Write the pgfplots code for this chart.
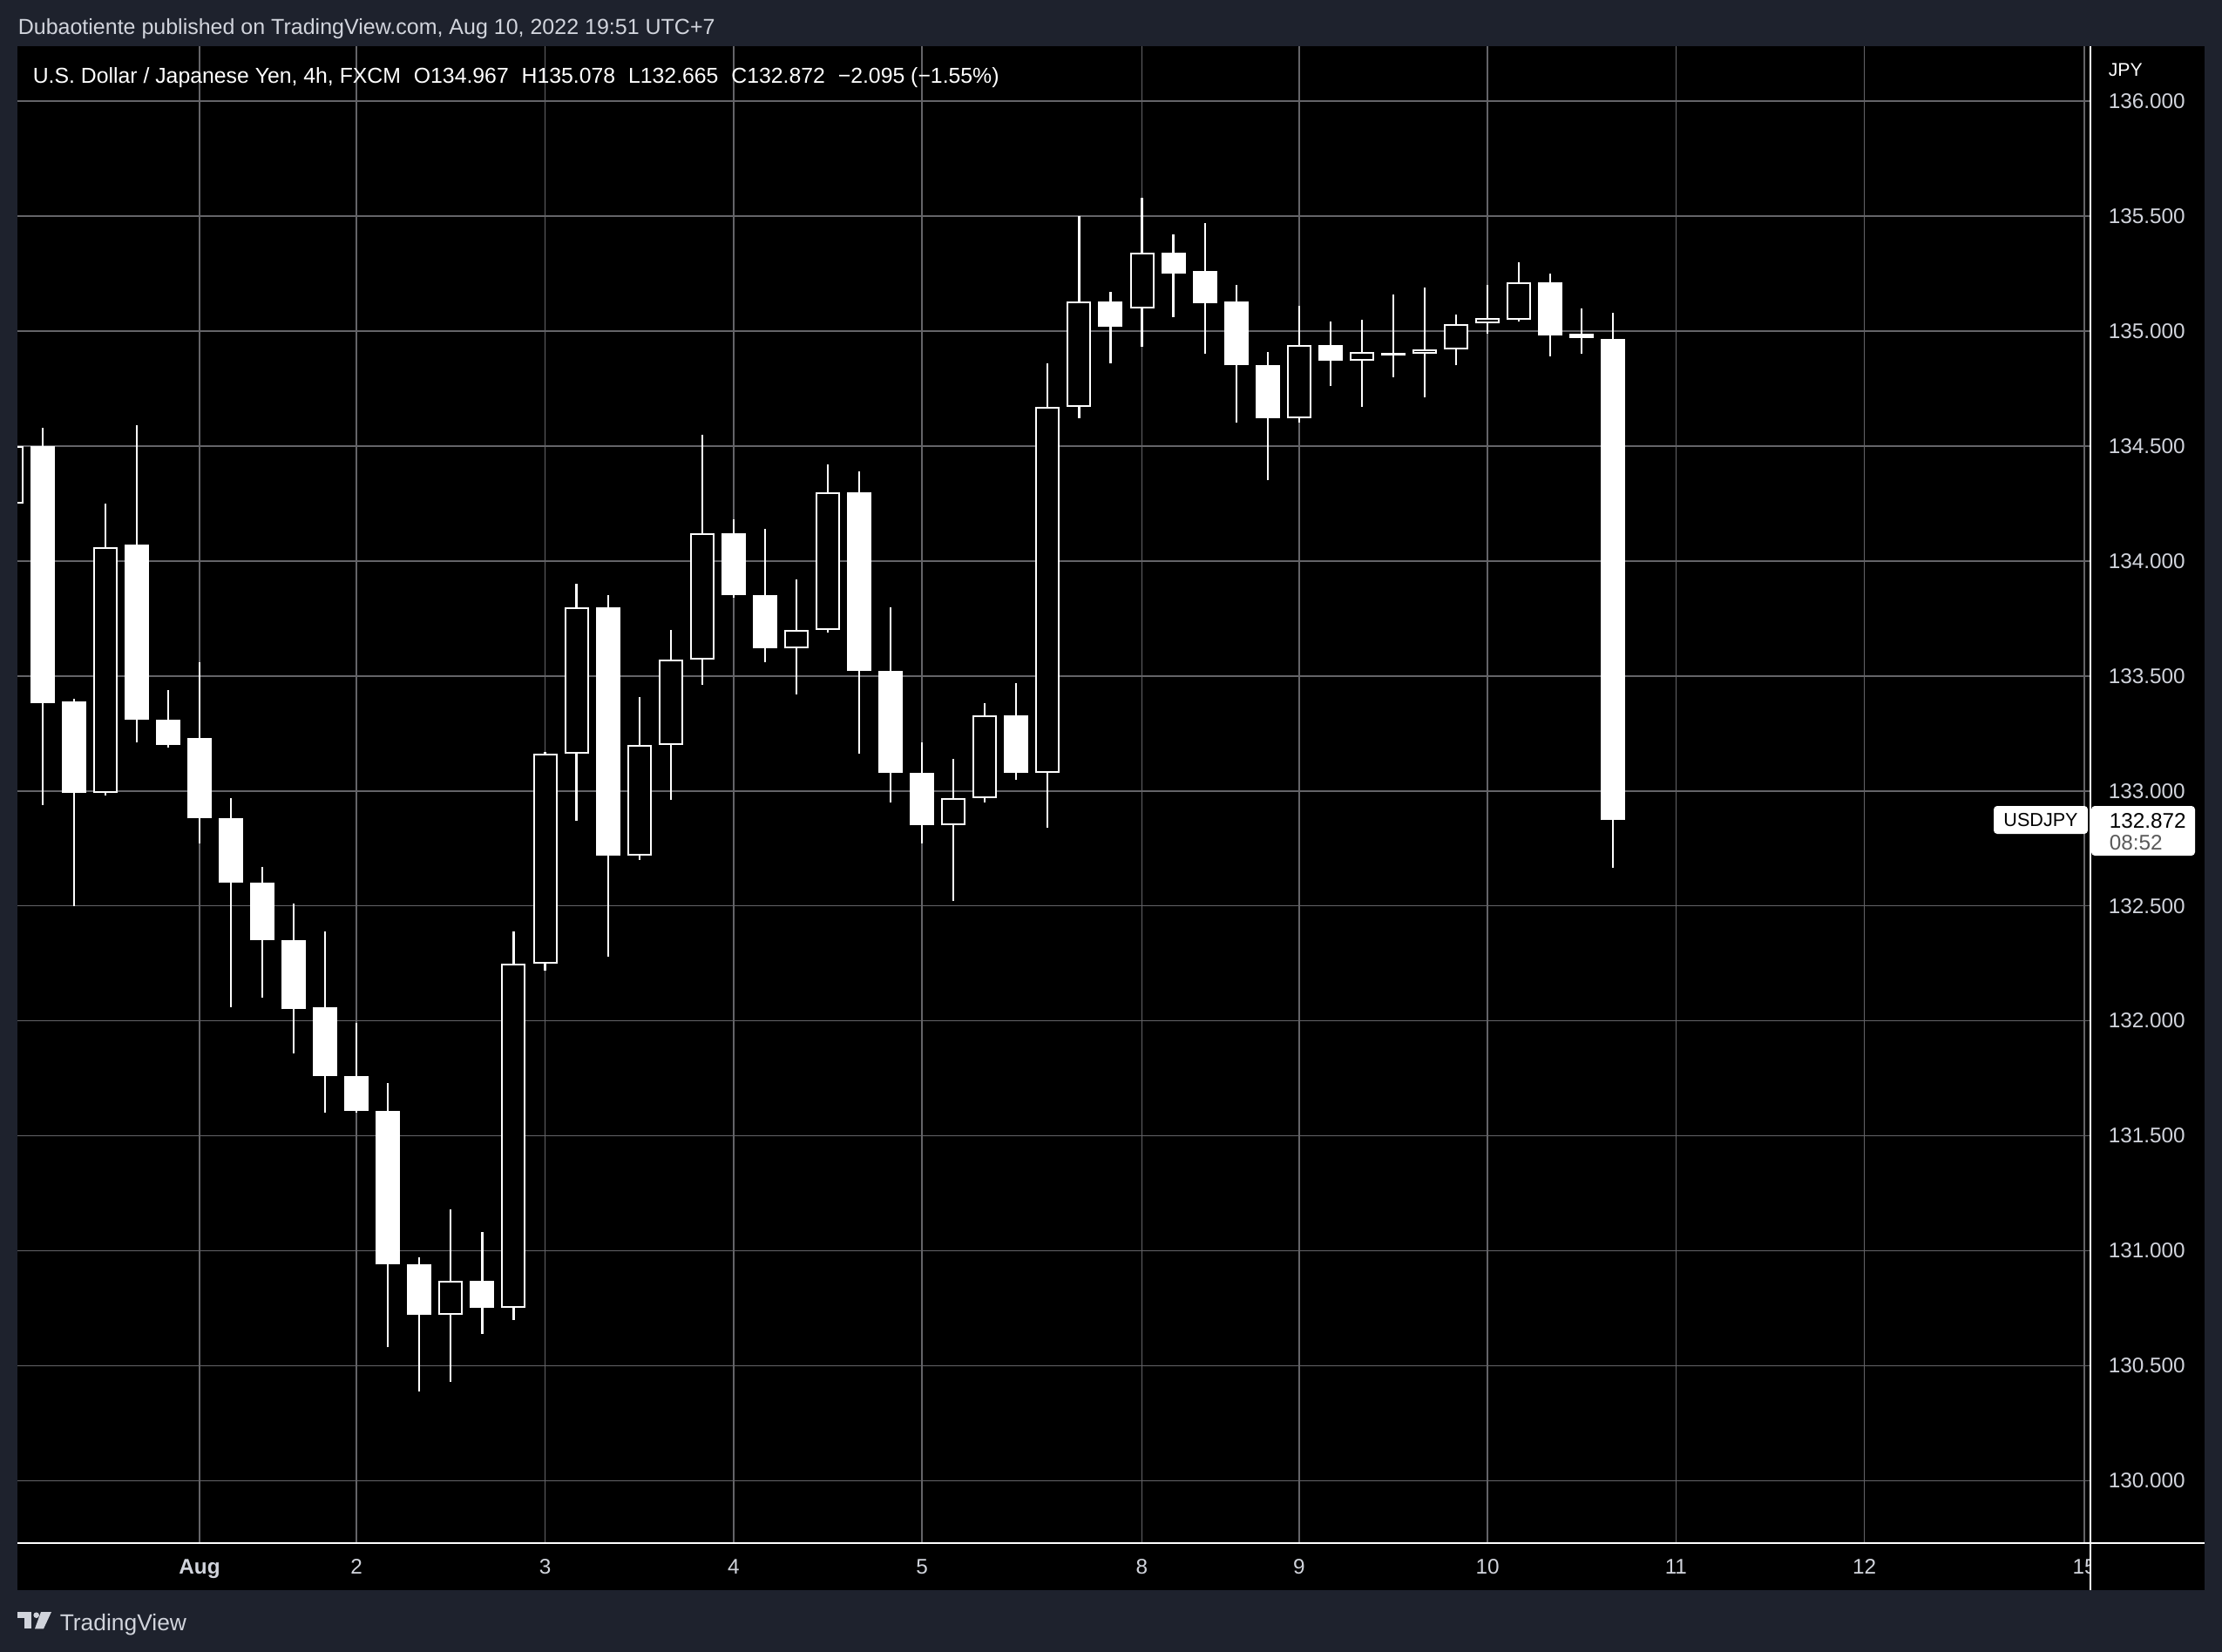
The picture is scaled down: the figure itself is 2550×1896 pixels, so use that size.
\documentclass[border=0pt]{standalone}
\usepackage{fontspec}
\setmainfont{Liberation Sans}
\usepackage{pgfplots}
\usepackage{pgfplotstable}
\pgfplotsset{compat=1.18}
\definecolor{bgdark}{RGB}{30,34,45}
\definecolor{gridc}{RGB}{100,100,104}
\definecolor{txt}{RGB}{209,212,220}
\definecolor{cdgray}{RGB}{90,90,90}

% bullish (hollow) candles: bar index, open, high, low, close
\pgfplotstableread{
x o h l c
-6 134.25 134.52 134.20 134.50
-3 132.99 134.25 132.98 134.06
8 130.72 131.18 130.43 130.87
10 130.75 132.39 130.70 132.25
11 132.25 133.17 132.22 133.16
12 133.16 133.90 132.87 133.80
14 132.72 133.41 132.70 133.20
15 133.20 133.70 132.96 133.57
16 133.57 134.55 133.46 134.12
19 133.62 133.92 133.42 133.70
20 133.70 134.42 133.69 134.30
24 132.85 133.14 132.52 132.97
25 132.97 133.38 132.95 133.33
27 133.08 134.86 132.84 134.67
28 134.67 135.50 134.62 135.13
30 135.10 135.58 134.93 135.34
35 134.62 135.11 134.60 134.94
37 134.87 135.05 134.67 134.91
39 134.90 135.19 134.71 134.92
40 134.92 135.07 134.85 135.03
41 135.035 135.20 134.99 135.055
42 135.05 135.30 135.04 135.21
}\bull

% bearish (filled) candles
\pgfplotstableread{
x o h l c
-5 134.50 134.58 132.94 133.38
-4 133.39 133.40 132.50 132.99
-2 134.07 134.59 133.21 133.31
-1 133.31 133.44 133.19 133.20
0 133.23 133.56 132.77 132.88
1 132.88 132.97 132.06 132.60
2 132.60 132.67 132.10 132.35
3 132.35 132.51 131.86 132.05
4 132.06 132.39 131.60 131.76
5 131.76 131.99 131.60 131.61
6 131.61 131.73 130.58 130.94
7 130.94 130.97 130.39 130.72
9 130.87 131.08 130.64 130.75
13 133.80 133.85 132.28 132.72
17 134.12 134.18 133.84 133.85
18 133.85 134.14 133.56 133.62
21 134.30 134.39 133.16 133.52
22 133.52 133.80 132.95 133.08
23 133.08 133.21 132.77 132.85
26 133.33 133.47 133.05 133.08
29 135.13 135.17 134.86 135.02
31 135.34 135.42 135.06 135.25
32 135.26 135.47 134.90 135.12
33 135.13 135.20 134.60 134.85
34 134.85 134.91 134.35 134.62
36 134.94 135.04 134.76 134.87
38 134.905 135.16 134.80 134.895
43 135.21 135.25 134.89 134.98
44 134.99 135.10 134.90 134.97
45 134.967 135.078 132.665 132.872
}\bear

\newcommand{\tvf}{\fontsize{6.08pt}{7.2pt}\selectfont}
\pgfplotsset{candle/.style={draw=none, no markers, forget plot,
  error bars/.cd, y dir=plus, y explicit, error mark=none,
  error bar style={#1}}}

\begin{document}
\begin{tikzpicture}
\begin{scope}[x=0.25pt,y=-0.25pt]
\fill[bgdark] (0,0) rectangle (2550,1896);
\fill[black] (20,53) rectangle (2530,1825);
\end{scope}

\begin{axis}[
  at={(5pt,-442.75pt)}, anchor=south west,
  scale only axis, width=594.5pt, height=429.5pt,
  xmin=-5.797, xmax=60.166, ymin=129.7287, ymax=136.2387,
  axis line style={draw=none},
  xtick={0,5,11,17,23,30,35,41,47,53,60},
  xticklabels={\textbf{Aug},2,3,4,5,8,9,10,11,12,15},
  ytick={130,130.5,131,131.5,132,132.5,133,133.5,134,134.5,135,135.5,136},
  yticklabel pos=right,
  grid=major, major grid style={gridc, line width=0.4pt},
  major tick length=0pt, tick style={draw=none},
  xticklabel style={anchor=base, yshift=-8.75pt, text=txt, font=\tvf},
  yticklabel style={anchor=west, inner sep=0pt, xshift=5.25pt, text=txt, font=\tvf,
    /pgf/number format/.cd, fixed, fixed zerofill, precision=3, 1000 sep={}},
  /pgf/number format/assume math mode=true,
  clip=true,
]
% wicks
\addplot[candle={draw=white, line width=0.55pt}]
  table[x=x, y=l, y error plus expr=\thisrow{h}-\thisrow{l}] {\bull};
\addplot[candle={draw=white, line width=0.55pt}]
  table[x=x, y=l, y error plus expr=\thisrow{h}-\thisrow{l}] {\bear};
% bearish bodies (filled)
\addplot[candle={draw=white, line width=7pt}]
  table[x=x, y=c, y error plus expr=\thisrow{o}-\thisrow{c}] {\bear};
% bullish bodies (hollow)
\addplot[candle={draw=white, line width=7pt}]
  table[x=x, y=o, y error plus expr=\thisrow{c}-\thisrow{o}] {\bull};
\addplot[candle={draw=black, line width=6pt, shorten <=0.5pt, shorten >=0.5pt}]
  table[x=x, y=o, y error plus expr=\thisrow{c}-\thisrow{o}] {\bull};
\end{axis}

\begin{scope}[x=0.25pt,y=-0.25pt]
% header texts
\node[anchor=base west, inner sep=0pt, text=txt, font=\fontsize{6.25pt}{7pt}\selectfont] at (20,39.5)
  {Dubaotiente published on TradingView.com, Aug 10, 2022 19:51 UTC+7};
\node[anchor=base west, inner sep=0pt, text=white, font=\fontsize{6.2pt}{7pt}\selectfont] at (37,95)
  {U.S. Dollar / Japanese Yen, 4h, FXCM\hspace{0.6em}O134.967\hspace{0.6em}H135.078\hspace{0.6em}L132.665\hspace{0.6em}C132.872\hspace{0.6em}−2.095 (−1.55\%)};
% axis frame lines
\draw[white, line width=0.6pt] (20,1771) -- (2530,1771);
\fill[black] (2399,1773) rectangle (2530,1824);
\draw[white, line width=0.5pt] (2398.5,53) -- (2398.5,1825);
% currency label
\node[anchor=base west, inner sep=0pt, text=white, font=\fontsize{5.3pt}{6pt}\selectfont] at (2419,87) {JPY};
% last price labels
\fill[white, rounded corners=1pt] (2288,925) rectangle (2396,957);
\node[text=black, inner sep=0pt, font=\fontsize{5.4pt}{6pt}\selectfont] at (2342,941) {USDJPY};
\fill[white, rounded corners=1pt] (2400,925) rectangle (2519,982);
\node[anchor=west, inner sep=0pt, text=black, font=\tvf] at (2420,942) {132.872};
\node[anchor=west, inner sep=0pt, text=cdgray, font=\tvf] at (2420,967) {08:52};
% TradingView logo
\fill[txt] (20,1850) rectangle (35.7,1857.3);
\fill[txt] (27.7,1850) rectangle (35.7,1869.3);
\fill[txt] (41.7,1853.7) circle (3.3);
\fill[txt] (47,1850) -- (59,1850) -- (50,1869.3) -- (40,1869.3) -- cycle;
\node[anchor=base west, inner sep=0pt, text=txt, font=\fontsize{6.6pt}{7pt}\selectfont] at (68,1871) {TradingView};
\end{scope}
\end{tikzpicture}
\end{document}
